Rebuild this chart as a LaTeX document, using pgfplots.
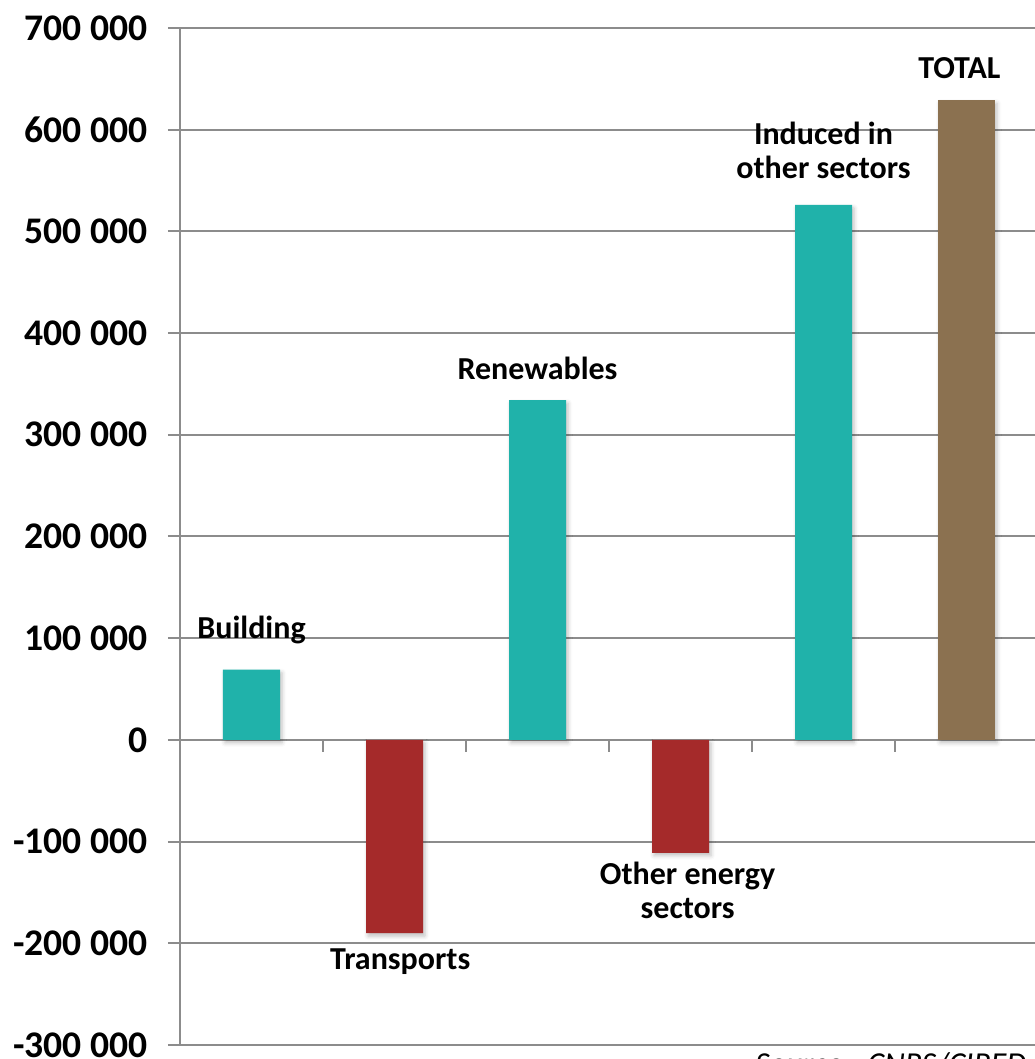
\documentclass[border=0pt]{standalone}
\usepackage{pgfplots}
\pgfplotsset{compat=1.18}
\usepackage{fontspec}
\setmainfont{Carlito}
\usetikzlibrary{shadows.blur}

\definecolor{gain}{HTML}{20B2AA}
\definecolor{loss}{HTML}{A52A2A}
\definecolor{total}{HTML}{8B7150}
\definecolor{gridgray}{HTML}{8C8C8C}

\begin{document}
\begin{tikzpicture}
\begin{axis}[
  name=ax,
  scale only axis,
  width=429pt, height=508.5pt,
  xmin=-0.5, xmax=5.5,
  ymin=-300000, ymax=700000,
  axis x line=none,
  axis y line=left,
  y axis line style={-, draw=gridgray, line width=1pt},
  ytick={-300000,-200000,...,700000},
  yticklabels={-300 000,-200 000,-100 000,0,100 000,200 000,300 000,400 000,500 000,600 000,700 000},
  yticklabel style={font=\fontsize{18.8}{20}\selectfont\bfseries, inner sep=0pt, xshift=-10pt},
  tick align=outside,
  major tick length=6pt,
  ytick style={draw=gridgray, line width=1pt},
  ymajorgrids,
  grid style={draw=gridgray, line width=1pt},
  ybar, bar width=28.5pt, bar shift=0pt,
  clip=false,
  every axis plot/.append style={draw=none,
    blur shadow={shadow xshift=1pt, shadow yshift=-1.5pt, shadow blur radius=2pt, shadow opacity=25}},
]
% job gains
\addplot[fill=gain] coordinates {(0,69000) (2,334000) (4,526000)};
% job losses
\addplot[fill=loss] coordinates {(1,-190000) (3,-111000)};
% net balance
\addplot[fill=total] coordinates {(5,629000)};

% category ticks on the zero line
\pgfplotsinvokeforeach{0.5,1.5,2.5,3.5,4.5}{
  \draw[gridgray, line width=1pt] (axis cs:#1,0) -- ([yshift=-6pt]axis cs:#1,0);
}

% category labels
\begin{scope}[every node/.style={font=\fontsize{16}{17}\selectfont\bfseries, align=center}]
\node at (axis cs:0,108000) {Building};
\node at (axis cs:1.04,-218000) {Transports};
\node at (axis cs:2,365000) {Renewables};
\node at (axis cs:3.05,-148000) {Other energy\\sectors};
\node at (axis cs:4,580000) {Induced in\\other sectors};
\node at (axis cs:4.95,661000) {TOTAL};
\end{scope}
\end{axis}
\node[anchor=north west, inner sep=0pt, font=\fontsize{16}{17}\selectfont\itshape]
  at ([shift={(287.5pt,-3.5pt)}]ax.south west) {Source : CNRS/CIRED};
\pgfresetboundingbox
\path[use as bounding box] ([shift={(-90pt,-7pt)}]ax.south west) rectangle ([shift={(427pt,522.5pt)}]ax.south west);
\end{tikzpicture}
\end{document}
